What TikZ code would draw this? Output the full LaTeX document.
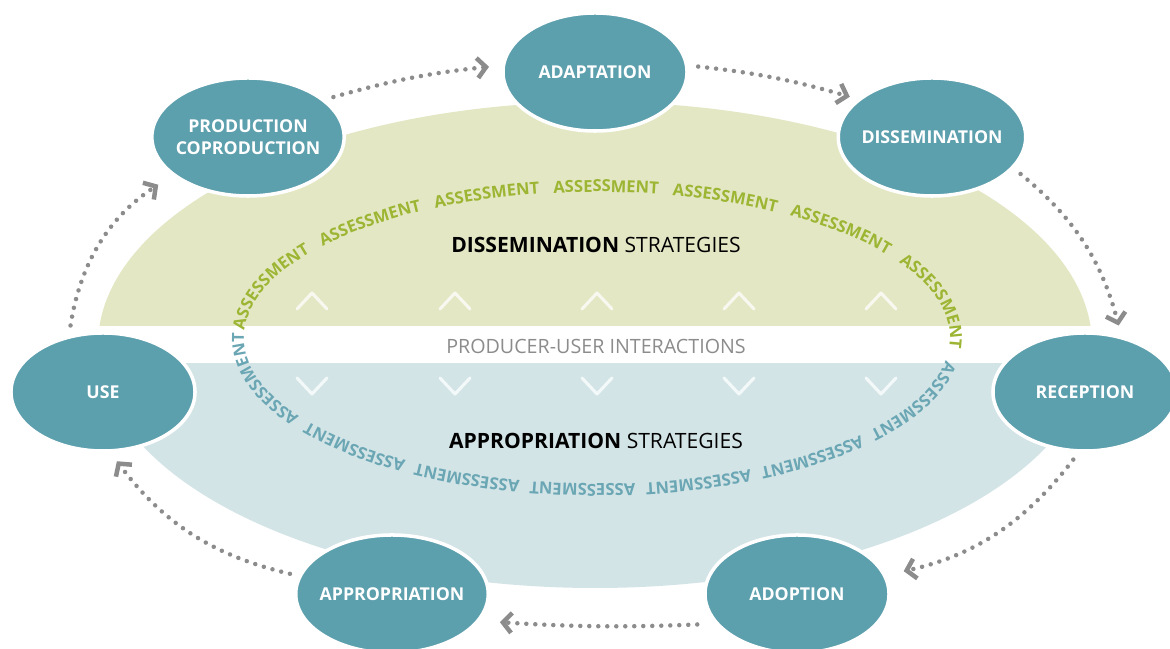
\documentclass[tikz,border=0pt]{standalone}
\usepackage{fontspec}
\setmainfont{Open Sans}
\usetikzlibrary{shapes.geometric,arrows.meta,decorations.text}

\definecolor{stagefill}{RGB}{92,159,173}
\definecolor{greenzone}{RGB}{228,231,196}
\definecolor{bluezone}{RGB}{211,228,231}
\definecolor{ringgreen}{RGB}{156,181,51}
\definecolor{ringblue}{RGB}{106,166,179}
\definecolor{flowgray}{RGB}{140,140,140}
\newcommand{\ringfont}{\fontsize{11.8}{14}\selectfont\bfseries}

\begin{document}
\begin{tikzpicture}[x=0.025cm,y=0.025cm,
	stage/.style={ellipse, fill=stagefill, draw=white, line width=2.5pt, minimum width=4.6cm, minimum height=2.95cm, inner sep=-3pt, text=white, align=center, font=\fontsize{12.6}{15.5}\selectfont\bfseries},
	flow/.style={draw=flowgray, line width=3.2pt, line cap=round, dash pattern=on 0pt off 6.4pt, -{Straight Barb[length=0.22cm,width=0.5cm]}},
	chev/.style={white, opacity=0.75, line width=2.2pt, line cap=round, line join=round}]
			\useasboundingbox (0,0) rectangle (1170,649);
			\fill[white] (0,0) rectangle (1170,649);
			% two halves of the strategy field
			\begin{scope}
				\clip (0,323) rectangle (1170,649);
				\fill[greenzone] (595,304) ellipse [x radius=497, y radius=243];
			\end{scope}
			\begin{scope}
				\clip (0,0) rectangle (1170,285);
				\fill[bluezone] (595,304) ellipse [x radius=497, y radius=243];
			\end{scope}
			\foreach \x in {312,455,597,739,881}{
				\draw[chev] (\x-15,340) -- (\x,356) -- (\x+15,340);
				\draw[chev] (\x-15,271) -- (\x,255) -- (\x+15,271);
			}
			% assessment ring
			\path[decorate, decoration={text along path, text align={fit to path stretching spaces}, text color=ringgreen,
				text={|\ringfont|ASSESSMENT ASSESSMENT ASSESSMENT ASSESSMENT ASSESSMENT ASSESSMENT ASSESSMENT}}]
				(597,311) ++(177:353 and 146) arc [start angle=177, end angle=-4, x radius=353, y radius=146];
			\path[decorate, decoration={text along path, text align={fit to path stretching spaces}, text color=ringblue,
				text={|\ringfont|ASSESSMENT ASSESSMENT ASSESSMENT ASSESSMENT ASSESSMENT ASSESSMENT ASSESSMENT}}]
				(597,311) ++(-9:353 and 146) arc [start angle=-9, end angle=-182, x radius=353, y radius=146];
			\node[font=\fontsize{15}{18}\selectfont](dstrat) at (596,404){\textbf{DISSEMINATION} STRATEGIES};
			\node[font=\fontsize{14}{17}\selectfont, text=flowgray](inter) at (596,303){PRODUCER-USER INTERACTIONS};
			\node[font=\fontsize{15}{18}\selectfont](astrat) at (596,208){\textbf{APPROPRIATION} STRATEGIES};
			% stages
			\node[stage](prod) at (248,512){PRODUCTION\\COPRODUCTION};
			\node[stage](adapt) at (595,577){ADAPTATION};
			\node[stage](dissem) at (932,512){DISSEMINATION};
			\node[stage](recep) at (1085,257){RECEPTION};
			\node[stage](adopt) at (797,55){ADOPTION};
			\node[stage](approp) at (392,55){APPROPRIATION};
			\node[stage](use) at (103,257){USE};
			% cycle
			\draw[flow, shorten <=0.25cm, shorten >=0.42cm] (use.121) to[bend left=24] (prod.207);
			\draw[flow, shorten <=0.22cm, shorten >=0.32cm] (prod.26) to[bend left=5] (adapt.176);
			\draw[flow, shorten <=0.25cm, shorten >=0.2cm] (adapt.4) to[bend left=5] (dissem.153);
			\draw[flow, shorten <=0.22cm, shorten >=0.27cm] (dissem.-21) to[bend left=18] (recep.57);
			\draw[flow, shorten <=0.22cm, shorten >=0.45cm] (recep.264) to[bend left=20] (adopt.12);
			\draw[flow, shorten <=0.45cm, shorten >=0.5cm] (adopt.200) to[bend left=3] (approp.-17);
			\draw[flow, shorten <=0.22cm, shorten >=0.27cm] (approp.169) to[bend left=20] (use.-83);
			\end{tikzpicture}
\end{document}
